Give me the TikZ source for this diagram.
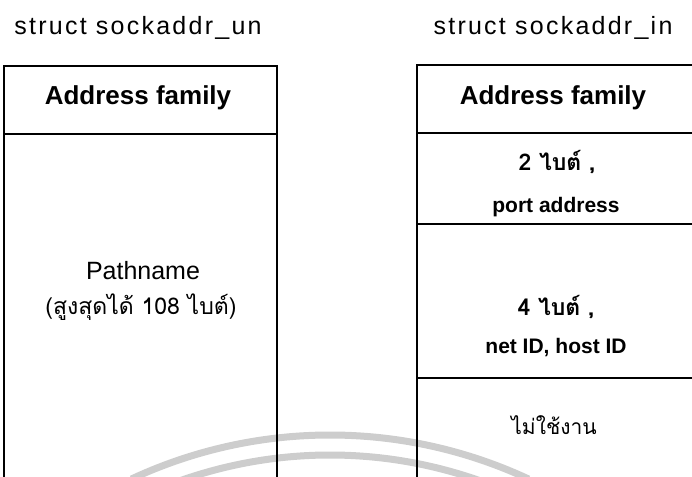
\documentclass[tikz,border=0pt]{standalone}
\usepackage{fontspec}
\setmainfont{Liberation Sans}
\newfontfamily\spacedfont[LetterSpace=9]{Liberation Sans}
\newfontfamily\thaifont[Script=Thai]{Loma}
\definecolor{wm}{RGB}{205,205,205}
\tikzset{
  boxline/.style={draw=black, line width=1.8pt},
  wmark/.style={draw=wm, line width=7pt},
  title/.style={font=\spacedfont\fontsize{25}{29}\selectfont, inner sep=0pt},
  head/.style={font=\bfseries\fontsize{26}{30}\selectfont, inner sep=0pt},
  plain/.style={font=\fontsize{25}{29}\selectfont, inner sep=0pt},
  thaiplain/.style={font=\thaifont\fontsize{23}{27}\selectfont, inner sep=0pt},
  thaismall/.style={font=\thaifont\fontsize{21}{25}\selectfont, inner sep=0pt},
  thaibold/.style={font=\thaifont\bfseries\fontsize{23}{27}\selectfont, inner sep=0pt},
  small/.style={font=\bfseries\fontsize{21}{25}\selectfont, inner sep=0pt},
}
\begin{document}
\begin{tikzpicture}[x=1pt, y=-1pt]
\useasboundingbox (0,0) rectangle (692,476);
\clip (0,0) rectangle (692,476);
% watermark arcs
\draw[wmark] (330,905) ++(-115:470) arc[start angle=-115, end angle=-65, radius=470];
\draw[wmark] (330,905) ++(-110:450) arc[start angle=-110, end angle=-70, radius=450];
% left box
\draw[boxline] (4,480) -- (4,66) -- (277,66) -- (277,480);
\draw[boxline] (4,134) -- (277,134);
% right box
\draw[boxline] (417,480) -- (417,65) -- (696,65);
\draw[boxline] (417,133) -- (696,133);
\draw[boxline] (417,224) -- (696,224);
\draw[boxline] (417,378) -- (696,378);
% titles
\node[title] (tun) at (138,28) {struct sockaddr\_un};
\node[title] (tin) at (553,28) {struct sockaddr\_in};
% left content
\node[head] (lhead) at (138,98) {Address family};
\node[plain] (path) at (143,271) {Pathname};
\node[thaiplain] (pmax) at (141,307) {(สูงสุดได้ 108 ไบต์)};
% right content
\node[head] (rhead) at (553,98) {Address family};
\node[thaibold] (two) at (557,162) {2 ไบต์ ,};
\node[small] (port) at (556,207) {port address};
\node[thaibold] (four) at (556,307) {4 ไบต์ ,};
\node[small] (net) at (556,348) {net ID, host ID};
\node[thaismall] (unused) at (554,425) {ไม่ใช้งาน};
\end{tikzpicture}
\end{document}
